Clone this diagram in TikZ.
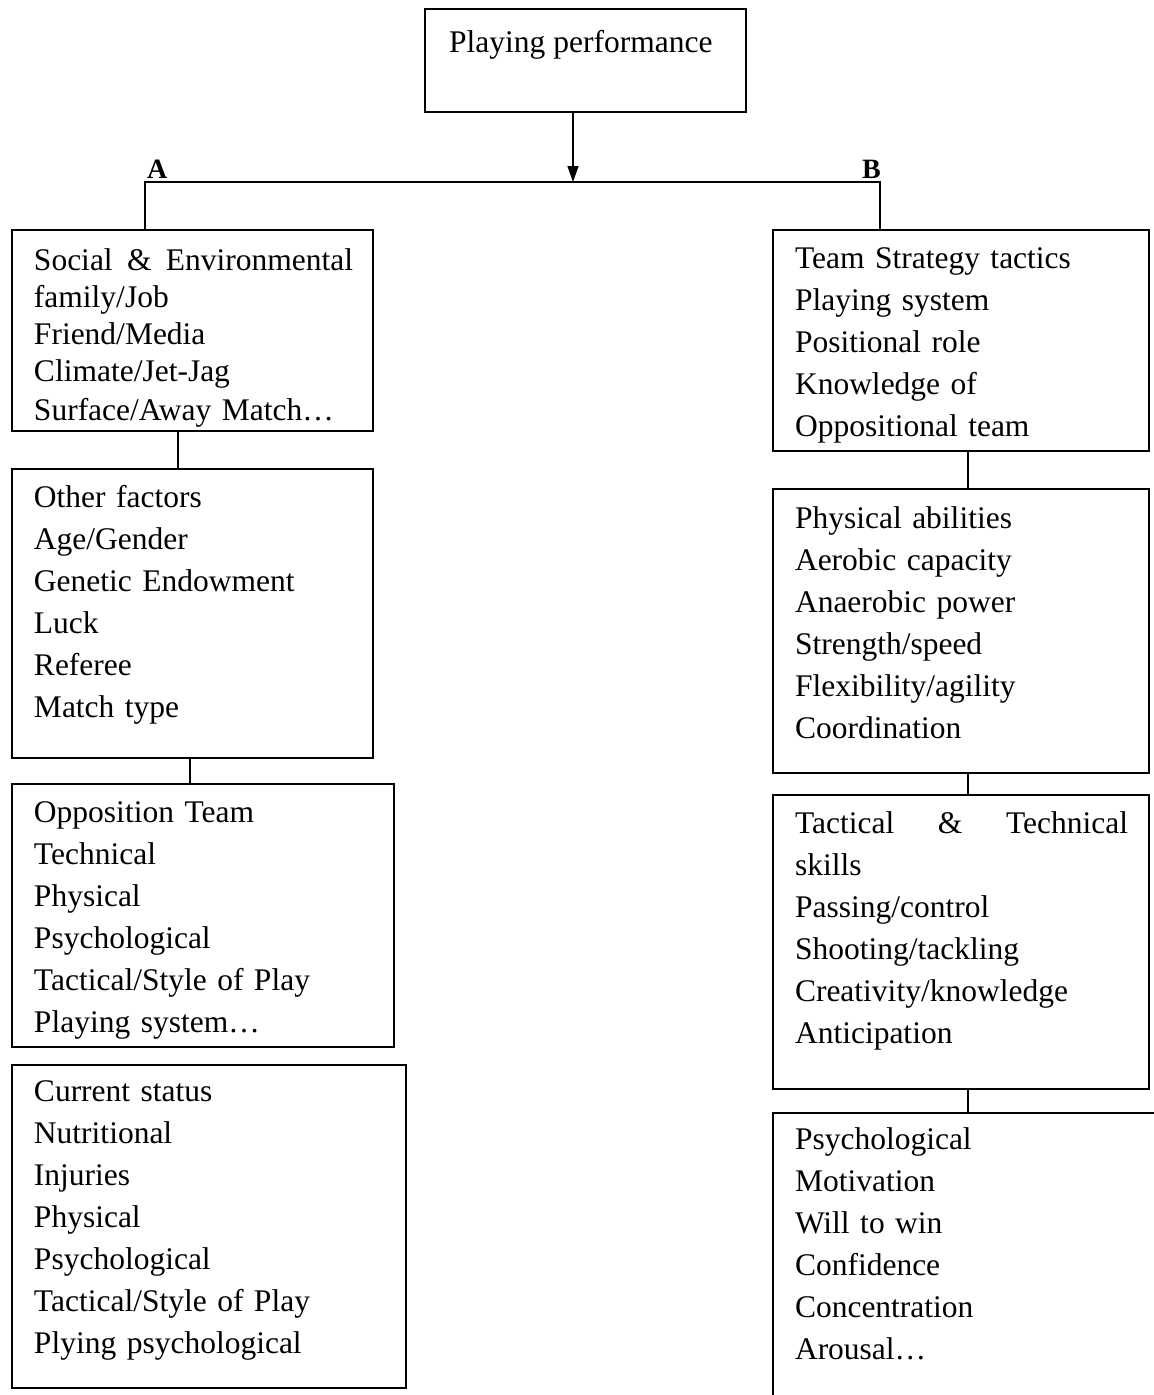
\documentclass[tikz,border=0pt]{standalone}
\usepackage{fontspec}
\setmainfont{Liberation Serif}
\usetikzlibrary{arrows.meta}
\tikzset{
  boxnode/.style={draw, line width=1.5pt, inner sep=0pt, outer sep=0pt, anchor=north west},
  txt/.style={inner sep=0pt, outer sep=0pt, anchor=north west, align=left, text width=#1,
    font=\fontsize{31.5}{42}\selectfont},
  txt/.default=340pt,
  lab/.style={inner sep=0pt, outer sep=0pt, anchor=base west, font=\fontsize{28}{30}\selectfont\bfseries},
  conn/.style={line width=1.5pt},
}
\begin{document}
\begin{tikzpicture}[x=1pt,y=-1pt]
\useasboundingbox (0,0) rectangle (1154,1395);
% boxes
\node[boxnode, minimum width=321pt, minimum height=103pt] (top) at (425,9) {};
\node[boxnode, minimum width=361pt, minimum height=201pt] (l1) at (12,230) {};
\node[boxnode, minimum width=361pt, minimum height=289pt] (l2) at (12,469) {};
\node[boxnode, minimum width=382pt, minimum height=263pt] (l3) at (12,784) {};
\node[boxnode, minimum width=394pt, minimum height=323pt] (l4) at (12,1065) {};
\node[boxnode, minimum width=376pt, minimum height=221pt] (r1) at (773,230) {};
\node[boxnode, minimum width=376pt, minimum height=284pt] (r2) at (773,489) {};
\node[boxnode, minimum width=376pt, minimum height=294pt] (r3) at (773,795) {};
\node[boxnode, minimum width=420pt, minimum height=320pt] (r4) at (773,1113) {};
% texts
\node[inner sep=0pt, anchor=base west, font=\fontsize{31.5}{42}\selectfont] (topt) at (449,52) {Playing performance};
\node[txt=320pt] (l1t) at (34,240.6) {\strut\hbox to 319pt{Social\hfill\&\hfill Environmental}\\[-5pt]
family/Job\\[-5pt]
Friend/Media\\[-5pt]
Climate/Jet-Jag\\[-3pt]
Surface/Away Match…};
\node[txt] (l2t) at (34,477.6) {\strut Other factors\\
Age/Gender\\
Genetic Endowment\\
Luck\\
Referee\\
Match type};
\node[txt] (l3t) at (34,792.6) {\strut Opposition Team\\
Technical\\
Physical\\
Psychological\\
Tactical/Style of Play\\
Playing system…};
\node[txt] (l4t) at (34,1071.6) {\strut Current status\\
Nutritional\\
Injuries\\
Physical\\
Psychological\\
Tactical/Style of Play\\
Plying psychological};
\node[txt] (r1t) at (795,238.6) {\strut Team Strategy tactics\\
Playing system\\
Positional role\\
Knowledge of\\
Oppositional team};
\node[txt] (r2t) at (795,498.6) {\strut Physical abilities\\
Aerobic capacity\\
Anaerobic power\\
Strength/speed\\
Flexibility/agility\\
Coordination};
\node[txt=340pt] (r3t) at (795,803.6) {\strut\hbox to 333pt{Tactical\hfill\&\hfill Technical}\\
skills\\
Passing/control\\
Shooting/tackling\\
Creativity/knowledge\\
Anticipation};
\node[txt] (r4t) at (795,1119.6) {\strut Psychological\\
Motivation\\
Will to win\\
Confidence\\
Concentration\\
Arousal…};
% labels
\node[lab] (labA) at (147,178) {A};
\node[lab] (labB) at (862,178) {B};
% connectors
\coordinate (mid) at (573,182);
\coordinate (aL) at (145,182);
\coordinate (aR) at (880,182);
\draw[conn, -{Triangle[length=16pt,width=11pt]}] ([xshift=148pt]top.south west) -- (mid);
\draw[conn] ([xshift=133pt]l1.north west) -- (aL) -- (aR) -- ([xshift=107pt]r1.north west);
\draw[conn] ([xshift=166pt]l1.south west) -- ([xshift=166pt]l2.north west);
\draw[conn] ([xshift=178pt]l2.south west) -- ([xshift=178pt]l3.north west);
\draw[conn] ([xshift=195pt]r1.south west) -- ([xshift=195pt]r2.north west);
\draw[conn] ([xshift=195pt]r2.south west) -- ([xshift=195pt]r3.north west);
\draw[conn] ([xshift=195pt]r3.south west) -- ([xshift=195pt]r4.north west);
\end{tikzpicture}
\end{document}
